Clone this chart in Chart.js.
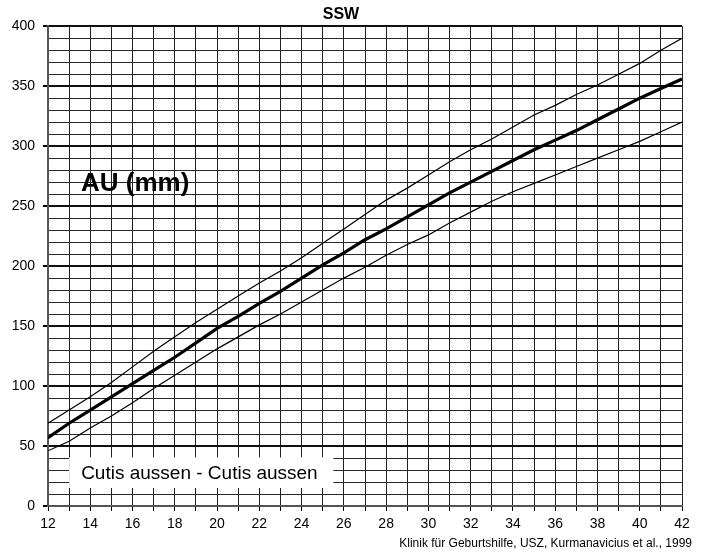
<!DOCTYPE html>
<html lang="de">
<head>
    <meta charset="UTF-8">
    <title>SSW - AU (mm)</title>
    <style>
        body { margin: 0; background: #fff; }
    </style>
</head>
<body>
    <div style="width:702px;height:553px">
        <canvas id="myChart" width="702" height="553"></canvas>
    </div>
    <script src="https://cdn.jsdelivr.net/npm/chart.js"></script>
    <script>
        // Schwangerschaftswochen (SSW)
        const weeks = [12,13,14,15,16,17,18,19,20,21,22,23,24,25,26,27,28,29,30,31,32,33,34,35,36,37,38,39,40,41,42];
        // Abdomenumfang (mm): obere Kurve, Mitte (fett), untere Kurve
        const upper  = [69,80,91,103,116,129,141,153,164,175,186,196,207,219,231,243,255,265,276,287,297,306,316,326,334,343,351,360,369,380,390];
        const middle = [57,69,80,91,102,113,124,136,148,158,169,179,190,201,211,222,231,241,251,261,270,279,288,297,305,313,322,331,340,348,356];
        const lower  = [46,54,65,75,86,98,109,120,131,141,151,160,170,180,190,199,209,218,226,236,245,254,262,269,276,283,290,297,304,312,320];

        const yMin = 0, yMax = 400, yStep = 10, yLabelStep = 50;
        const xMin = 12, xMax = 42;

        const FONT = "'Liberation Sans', Arial, sans-serif";

        const toPoints = (arr) => weeks.map((w, i) => ({ x: w, y: arr[i] }));

        // Texte im Diagramm (AU (mm), Kasten unten, Quelle)
        const textPlugin = {
            id: 'texte',
            afterDraw(chart) {
                const c = chart.ctx;
                const xs = chart.scales.x, ys = chart.scales.y;
                c.save();
                // weisser Kasten "Cutis aussen - Cutis aussen"
                const bx = xs.getPixelForValue(13), by = ys.getPixelForValue(40.5);
                const bw = xs.getPixelForValue(25.5) - bx, bh = ys.getPixelForValue(15) - by;
                c.fillStyle = '#fff';
                c.fillRect(bx, by, bw, bh);
                c.fillStyle = '#000';
                c.font = '19px ' + FONT;
                c.textBaseline = 'middle';
                c.textAlign = 'left';
                c.fillText('Cutis aussen - Cutis aussen', bx + 12, by + bh / 2 + 1);

                c.font = 'bold 26px ' + FONT;
                c.textBaseline = 'alphabetic';
                c.fillText('AU (mm)', 81, 191);

                c.font = '12px ' + FONT;
                c.textAlign = 'right';
                c.fillText('Klinik für Geburtshilfe, USZ, Kurmanavicius et al., 1999', 692, 547);
                c.restore();
            }
        };

        const ctx = document.querySelector('#myChart');

        const myChart = new Chart(ctx, {
            type: 'line',
            data: {
                datasets: [
                    { data: toPoints(upper),  borderColor: '#000', borderWidth: 1.2 },
                    { data: toPoints(middle), borderColor: '#000', borderWidth: 3.2 },
                    { data: toPoints(lower),  borderColor: '#000', borderWidth: 1.2 }
                ]
            },
            options: {
                responsive: false,
                animation: false,
                devicePixelRatio: 1,
                elements: { point: { radius: 0 }, line: { tension: 0, fill: false } },
                layout: { padding: { left: 0, right: 20, top: 0, bottom: 0 } },
                plugins: {
                    legend: { display: false },
                    tooltip: { enabled: false },
                    title: {
                        display: true,
                        text: 'SSW',
                        color: '#000',
                        font: { family: FONT, size: 16, weight: 'bold' },
                        padding: { top: 5, bottom: 2 }
                    }
                },
                scales: {
                    x: {
                        type: 'linear',
                        min: xMin,
                        max: xMax,
                        afterFit(scale) { scale.height = 47; },
                        ticks: {
                            stepSize: 1,
                            autoSkip: false,
                            maxRotation: 0,
                            padding: 5,
                            color: '#000',
                            font: { family: FONT, size: 14 },
                            callback: (v) => (v % 2 === 0 ? v : '')
                        },
                        grid: {
                            color: '#222',
                            lineWidth: 1,
                            tickLength: 5,
                            tickColor: '#000'
                        },
                        border: { color: '#555', width: 2 }
                    },
                    y: {
                        min: yMin,
                        max: yMax,
                        afterFit(scale) { scale.width = 48; },
                        ticks: {
                            stepSize: yStep,
                            autoSkip: false,
                            padding: 8,
                            color: '#000',
                            font: { family: FONT, size: 14 },
                            callback: (v) => (v % yLabelStep === 0 ? v : '')
                        },
                        grid: {
                            color: (c) => (c.tick && c.tick.value % yLabelStep === 0 ? '#111' : '#2a2a2a'),
                            lineWidth: (c) => (c.tick && c.tick.value % yLabelStep === 0 ? 2 : 1),
                            tickLength: 5,
                            tickColor: (c) => (c.tick && c.tick.value % yLabelStep === 0 ? '#000' : 'rgba(0,0,0,0)')
                        },
                        border: { color: '#555', width: 2 }
                    }
                }
            },
            plugins: [textPlugin]
        });
    </script>
</body>
</html>
